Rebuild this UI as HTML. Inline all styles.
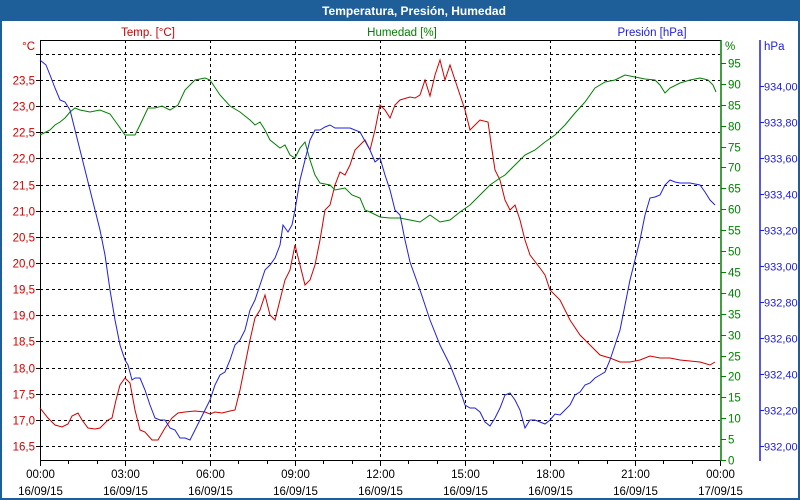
<!DOCTYPE html>
<html><head><meta charset="utf-8"><style>
html,body{margin:0;padding:0;background:#fff}
svg{display:block}
text{font-family:"Liberation Sans","DejaVu Sans",sans-serif;font-size:11.5px}
</style></head><body>
<svg id="s" width="800" height="500" xmlns="http://www.w3.org/2000/svg">
<rect x="0" y="0" width="800" height="500" fill="#fff"/>
<rect x="0" y="0" width="800" height="21" fill="#1f5f99"/>
<rect x="0.5" y="0.5" width="799" height="499" fill="none" stroke="#1f5f99" stroke-width="3"/>
<text x="414" y="15" fill="#fff" font-weight="bold" text-anchor="middle" style="font-size:12px">Temperatura, Presión, Humedad</text>
<text x="148" y="36" fill="#d00000" text-anchor="middle">Temp. [°C]</text>
<text x="402" y="36" fill="#008000" text-anchor="middle">Humedad [%]</text>
<text x="652" y="36" fill="#2020e0" text-anchor="middle">Presión [hPa]</text>
<text x="35" y="50" fill="#d00000" text-anchor="end">°C</text>
<text x="725" y="50" fill="#008000">%</text>
<text x="764" y="50" fill="#2020e0">hPa</text>
<g id="g"></g>
</svg>
<script>
var g=document.getElementById('g'),h='';
function L(x1,y1,x2,y2,c,d,w){h+='<line x1="'+x1+'" y1="'+y1+'" x2="'+x2+'" y2="'+y2+'" stroke="'+c+'" stroke-width="'+(w||1)+'"'+(d?' stroke-dasharray="3,3"':'')+'/>';}
function T(x,y,t,c,a,s){h+='<text x="'+x+'" y="'+y+'" fill="'+c+'" text-anchor="'+(a||'start')+'"'+(s?' style="font-size:'+s+'px"':'')+'>'+t+'</text>';}
for(var v=24.0;v>=16.49;v-=0.5){var y=Math.round(80+(23.5-v)*52.29)+0.5;L(40,y,720,y,'#000',1);
 if(v<23.9)T(35,y+4,v.toFixed(1).replace('.',','),'#d00000','end');L(36,y,40,y,'#000');}
var lab=['00:00','03:00','06:00','09:00','12:00','15:00','18:00','21:00','00:00'];
for(var k=0;k<=8;k++){var x=40+85*k+0.5;if(k>0&&k<8)L(x,40,x,460,'#000',1);L(x,460,x,466,'#000');
 T(x,478,lab[k],'#000','middle');T(x,495,k==8?'17/09/15':'16/09/15','#000','middle');}
for(var m=0;m<24;m++){var x=Math.round(40+m*85/3)+0.5;L(x,460,x,464,'#000');}
for(var v=0;v<=95;v+=5){var y=Math.round(460-v*4.18)+0.5;L(721,y,726,y,'#008000');T(728,y+4,v,'#008000');}
for(var i=0;i<=10;i++){var v=932+i*0.2;var y=Math.round(446-i*36)+0.5;L(760,y,764,y,'#2020e0');T(764,y+4,v.toFixed(2).replace('.',','),'#2020e0','start',11);}
L(40.5,40,40.5,461,'#000');L(40,40.5,721,40.5,'#000');L(40,460.5,721,460.5,'#000');
L(721,40,721,461,'#008000',0,1.5);L(760,40,760,461,'#2020e0',0,1.5);
function P(a,c){h+='<polyline fill="none" stroke="'+c+'" stroke-width="1" points="'+a+'"/>';}
P("40,408 48,418 55,425 62,427 68,424 72,416 78,413 82,420 88,428 95,429 100,428 108,420 112,418 116,400 120,385 125,378 130,383 135,410 140,430 145,432 152,440 158,440 165,428 172,418 178,413 185,412 195,411 205,412 210,414 215,412 222,413 230,411 235,410 240,390 245,365 250,340 255,318 260,310 265,295 270,315 275,320 280,300 285,280 290,270 295,245 300,265 305,285 310,280 315,265 320,240 325,210 330,205 335,185 340,172 345,175 350,165 355,150 360,145 365,140 370,150 375,130 380,105 385,110 390,118 395,105 400,100 410,97 415,98 420,95 425,80 430,96 435,75 440,60 445,80 450,65 455,80 460,95 465,110 470,130 475,125 480,120 488,122 492,150 495,170 500,180 505,200 510,210 515,205 520,220 525,240 530,255 540,268 545,275 550,290 560,300 570,320 580,335 590,345 600,355 610,358 620,362 630,362 640,360 650,356 660,358 670,358 680,360 690,361 700,362 710,365 715,362","#d00000");
P("40,135 50,130 55,125 60,122 65,118 70,112 75,108 80,110 90,112 100,110 110,114 118,125 125,135 135,135 140,125 148,108 155,108 162,106 170,110 178,105 185,90 195,80 205,78 210,80 220,95 230,106 240,112 250,120 255,125 260,122 265,130 270,140 280,148 285,145 290,155 295,158 300,148 305,142 310,160 315,175 320,183 330,185 335,190 345,188 352,195 360,198 365,210 370,212 380,217 390,218 400,218 410,220 420,222 430,215 440,222 450,220 460,212 470,205 480,195 490,185 500,178 505,175 515,165 525,155 535,150 545,142 555,135 565,125 575,113 585,102 595,88 600,85 605,82 615,80 625,75 635,77 645,79 655,80 660,85 665,93 670,88 680,83 690,80 700,78 708,80 713,85 716,92","#008000");
P("40,60 46,65 50,75 55,88 60,100 65,102 70,110 75,130 80,150 85,170 90,190 95,210 100,230 105,255 110,290 115,320 120,345 125,360 128,365 132,380 135,378 140,378 145,390 150,405 155,418 160,420 165,420 170,428 175,430 180,438 185,438 190,440 195,430 200,420 205,410 210,400 215,385 220,375 225,372 230,360 235,345 240,340 245,330 250,310 255,300 260,285 265,270 270,265 275,258 280,245 283,225 288,232 292,225 295,210 300,180 305,160 310,140 315,130 320,130 325,127 330,125 335,128 340,128 350,128 360,132 370,150 375,162 380,158 385,175 390,190 395,210 400,215 405,240 410,262 420,290 430,320 440,345 450,365 460,390 465,405 470,408 475,408 480,412 485,422 490,426 495,418 500,408 505,395 510,393 515,400 520,410 525,428 530,420 535,420 540,422 545,424 550,420 555,414 560,415 565,410 570,405 575,395 580,392 585,385 590,383 595,378 600,375 605,372 610,360 615,345 620,330 625,305 630,280 635,260 640,240 645,215 650,198 655,197 660,195 665,185 670,180 675,182 680,183 690,183 700,185 705,192 710,200 715,205","#2020e0");
g.innerHTML=h;
</script>
</body></html>
